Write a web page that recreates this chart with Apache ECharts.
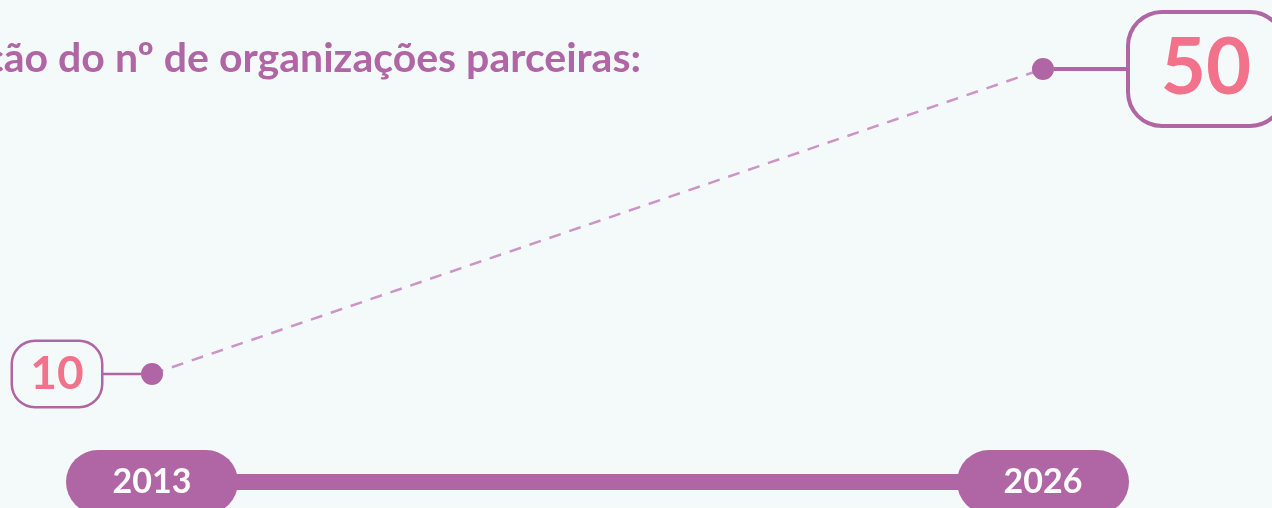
<!DOCTYPE html>
<html><head><meta charset="utf-8">
<script src="https://cdn.jsdelivr.net/npm/echarts@6/dist/echarts.min.js"></script>
<style>html,body{margin:0;padding:0;background:#f4fafa}#c{width:1272px;height:508px}</style>
</head><body><div id="c"></div>
<script>
const titleText = 'Evolução do nº de organizações parceiras:';
const years = ['2013', '2026'];
const partners = [10, 50];

const PURPLE = '#b065a5';
const PINK = '#f2718b';
const FONT = 'Lato, "Noto Sans", sans-serif';

const chart = echarts.init(document.getElementById('c'));
chart.setOption({
  backgroundColor: '#f4fafa',
  animation: false,
  title: {
    text: titleText, right: 626, top: 33,
    textStyle: { color: PURPLE, fontSize: 41, fontWeight: 'bold', fontFamily: FONT }
  },
  grid: { left: 152, right: 229, top: 69, bottom: 134, outerBoundsMode: 'none', containLabel: false },
  xAxis: {
    type: 'category', data: years, boundaryGap: false, offset: 108,
    axisLine: { show: true, lineStyle: { color: PURPLE, width: 16 } },
    axisTick: { show: false }, splitLine: { show: false },
    axisLabel: {
      interval: 0, margin: 0, verticalAlign: 'middle', align: 'center',
      color: '#ffffff', fontSize: 34, fontWeight: 'bold', fontFamily: FONT,
      backgroundColor: PURPLE, borderRadius: 32, width: 172, height: 64, lineHeight: 64
    }
  },
  yAxis: { type: 'value', min: 10, max: 50, show: false, splitLine: { show: false } },
  series: [{
    type: 'line',
    symbol: 'circle', symbolSize: 22,
    itemStyle: { color: PURPLE },
    lineStyle: { color: '#cc94c7', width: 2.5, type: [12, 9] },
    label: { show: true },
    data: partners.map((v, i) => ({
      value: v,
      label: i === 0 ? {
        position: 'left', distance: 0,
        formatter: '{box|{c}}{conn|}',
        rich: {
          box: { width: 88, height: 64, align: 'center', borderColor: PURPLE, borderWidth: 2.5, borderRadius: 22,
                 backgroundColor: '#f4fafa', color: PINK, fontSize: 46, fontWeight: 'bold', fontFamily: FONT },
          conn: { width: 40, height: 2.5, backgroundColor: PURPLE }
        }
      } : {
        position: 'right', distance: 0,
        formatter: '{conn|}{box|{c}}',
        rich: {
          box: { width: 152, height: 110, align: 'center', borderColor: PURPLE, borderWidth: 4, borderRadius: 32,
                 backgroundColor: '#f4fafa', color: PINK, fontSize: 78, fontWeight: 'bold', fontFamily: FONT },
          conn: { width: 76, height: 4, backgroundColor: PURPLE }
        }
      }
    }))
  }]
});
</script></body></html>
